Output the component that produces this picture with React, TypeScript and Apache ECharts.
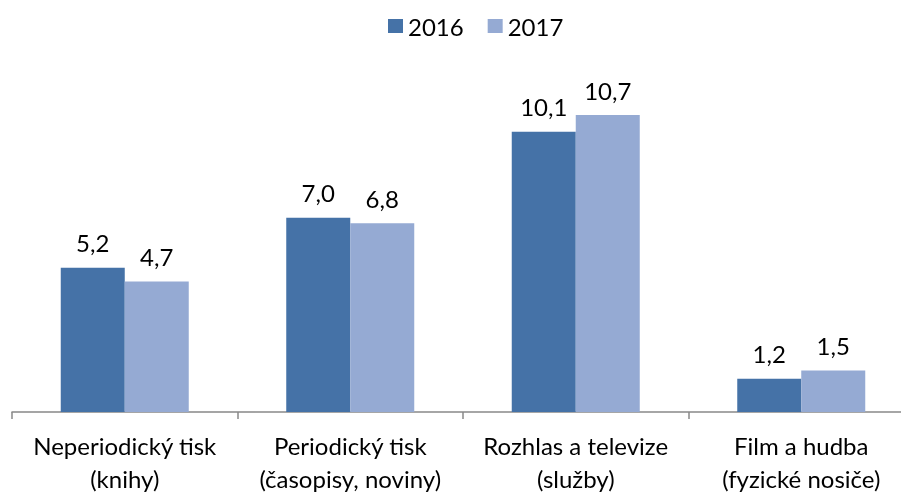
import React, { useEffect, useRef } from "react";
import * as echarts from "echarts";

const categories = [
  "Neperiodický tisk\n(knihy)",
  "Periodický tisk\n(časopisy, noviny)",
  "Rozhlas a televize\n(služby)",
  "Film a hudba\n(fyzické nosiče)",
];
const seriesNames = ["2016", "2017"];
const values2016 = [5.2, 7.0, 10.1, 1.2];
const values2017 = [4.7, 6.8, 10.7, 1.5];

const FONT = "Lato, 'Open Sans', sans-serif";

export default function App() {
  const ref = useRef<HTMLDivElement>(null);
  useEffect(() => {
    const chart = echarts.init(ref.current!, null, { renderer: "svg" });
    const label = {
      show: true,
      position: "top" as const,
      distance: 13,
      color: "#000",
      fontSize: 24,
      fontFamily: FONT,
      formatter: (p: any) => Number(p.value).toFixed(1).replace(".", ","),
    };
    chart.setOption({
      animation: false,
      legend: {
        top: 9,
        left: 383,
        itemWidth: 15,
        itemHeight: 14,
        itemGap: 24,
        icon: "rect",
        textStyle: { fontSize: 24, fontFamily: FONT, color: "#000" },
        data: seriesNames,
      },
      grid: {
        left: 12,
        right: -13,
        top: 79,
        bottom: 80,
        containLabel: false,
        outerBoundsMode: "none",
      },
      xAxis: {
        type: "category",
        data: categories,
        axisLine: { lineStyle: { color: "#888", width: 1.5 } },
        axisTick: { show: true, length: 7, lineStyle: { color: "#888", width: 1.5 } },
        axisLabel: {
          fontSize: 24,
          fontFamily: FONT,
          color: "#000",
          lineHeight: 33,
          margin: 17,
          interval: 0,
          hideOverlap: false,
        },
      },
      yAxis: {
        type: "value",
        min: 0,
        max: 12,
        show: false,
        splitLine: { show: false },
      },
      series: [
        {
          name: seriesNames[0],
          type: "bar",
          data: values2016,
          barWidth: 64,
          barGap: "0%",
          itemStyle: { color: "#4572A7" },
          label,
        },
        {
          name: seriesNames[1],
          type: "bar",
          data: values2017,
          barWidth: 64,
          barGap: "0%",
          itemStyle: { color: "#95AAD3" },
          label,
        },
      ],
    });
    return () => chart.dispose();
  }, []);
  return (
    <div
      ref={ref}
      style={{ position: "fixed", left: 0, top: 0, width: 901, height: 492 }}
    />
  );
}
